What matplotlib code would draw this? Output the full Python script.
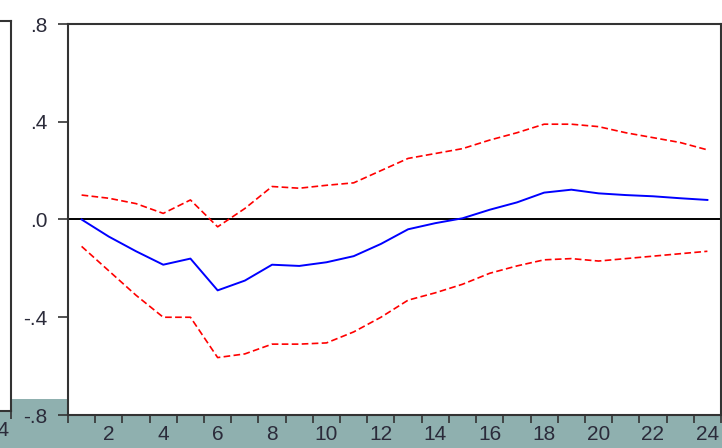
import numpy as np
import matplotlib
matplotlib.use('Agg')
import matplotlib.pyplot as plt
from matplotlib.patches import Rectangle

plt.rcParams['font.family'] = ['Liberation Sans', 'DejaVu Sans']

# Impulse response (periods 1..24) with +/- 2 S.E. bands
periods = list(range(1, 25))
response = [0.0, -0.07, -0.13, -0.185, -0.16, -0.29, -0.25, -0.185, -0.19, -0.175,
            -0.15, -0.10, -0.04, -0.015, 0.005, 0.04, 0.07, 0.11, 0.122, 0.107,
            0.10, 0.095, 0.087, 0.08]
upper = [0.10, 0.087, 0.065, 0.025, 0.08, -0.03, 0.045, 0.135, 0.128, 0.14,
         0.15, 0.20, 0.25, 0.27, 0.29, 0.325, 0.355, 0.39, 0.39, 0.38,
         0.355, 0.335, 0.315, 0.285]
lower = [-0.11, -0.21, -0.31, -0.40, -0.40, -0.565, -0.55, -0.51, -0.51, -0.505,
         -0.46, -0.40, -0.33, -0.30, -0.265, -0.22, -0.19, -0.165, -0.16, -0.17,
         -0.16, -0.15, -0.14, -0.13]
y_ticks = [-0.8, -0.4, 0.0, 0.4, 0.8]
y_labels = ['-.8', '-.4', '.0', '.4', '.8']
x_labels = list(range(2, 25, 2))

W, H = 722, 448
fig = plt.figure(figsize=(W / 100, H / 100), dpi=100)
fig.patch.set_facecolor('white')
fig.add_artist(Rectangle((0, 0), 1, (H - 399) / H, transform=fig.transFigure,
                         facecolor='#8fb0af', edgecolor='none', zorder=-5))

text_col = '#2b2b3a'
spine_col = '#333333'


def style_x(ax, labels, tick_pos):
    ax.set_xlim(0.5, 24.5)
    ax.set_xticks(tick_pos)
    ax.set_xticklabels([])
    ax.set_xticks(labels, minor=True)
    ax.set_xticklabels([str(v) for v in labels], minor=True)
    ax.tick_params(axis='x', which='major', direction='out', length=6, width=1.2,
                   color=spine_col)
    ax.tick_params(axis='x', which='minor', length=0, labelsize=15, pad=7,
                   labelcolor=text_col)
    for s in ax.spines.values():
        s.set_color(spine_col)
        s.set_linewidth(1.5)


# neighbouring panel, mostly off the left edge (only its last label shows)
x_right = 11
ax0 = fig.add_axes([(x_right - 648) / W, (H - 411) / H, 648 / W, (411 - 21) / H])
style_x(ax0, [24], [23.5, 24.5])
ax0.set_yticks([])
ax0.set_ylim(-0.8, 0.8)

# main panel
left, right, top, bottom = 68, 721, 24, 415
ax = fig.add_axes([left / W, (H - bottom) / H, (right - left) / W, (bottom - top) / H])
style_x(ax, x_labels, np.arange(0.5, 25, 1.0))
ax.set_ylim(-0.8, 0.8)
ax.set_yticks(y_ticks)
ax.set_yticklabels(y_labels)
ax.tick_params(axis='y', direction='out', length=7, width=1.2, color=spine_col,
               labelsize=15, labelcolor=text_col, pad=8)

ax.axhline(0, color='black', linewidth=1.4, zorder=1)
ax.plot(periods, upper, color='#ff0000', linewidth=1.2, linestyle=(0, (4, 2)))
ax.plot(periods, lower, color='#ff0000', linewidth=1.2, linestyle=(0, (4, 2)))
ax.plot(periods, response, color='#0000ff', linewidth=1.4)

fig.savefig('out.png', dpi=100, facecolor=fig.get_facecolor())
